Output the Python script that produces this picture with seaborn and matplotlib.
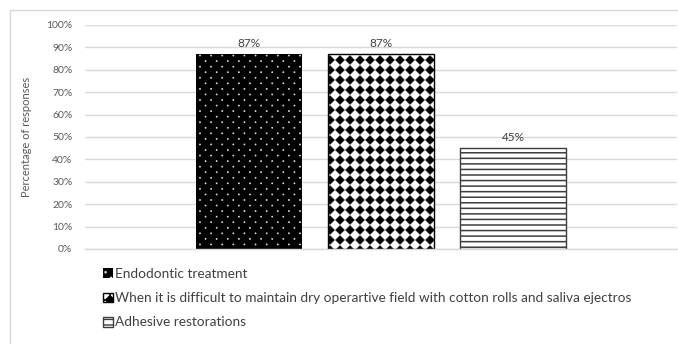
import warnings

import numpy as np
import pandas as pd
import matplotlib
matplotlib.use("Agg")
import matplotlib.pyplot as plt
import matplotlib.hatch as mhatch
from matplotlib.path import Path
from matplotlib.patches import Rectangle
from matplotlib.ticker import FuncFormatter
import seaborn as sns

warnings.filterwarnings("ignore")

# ---- data -------------------------------------------------------------
situations = [
    "Endodontic treatment",
    "When it is difficult to maintain dry operartive field with cotton rolls and saliva ejectros",
    "Adhesive restorations",
]
percentages = [87, 87, 45]
group = [""] * len(situations)
ytick_values = list(range(0, 101, 10))
y_label = "Percentage of responses"


# ---- custom fill textures (dots / diamonds) ---------------------------
class _LatticeHatch(mhatch.HatchPatternBase):
    symbol = ""
    cols = 10
    rows = 10
    stagger = False
    size = 0.5
    unit_vertices = np.zeros((0, 2))
    unit_codes = []

    def __init__(self, hatch, density):
        active = bool(self.symbol) and hatch.count(self.symbol) > 0
        k = len(self.unit_vertices)
        self.num_vertices = (self.rows + 1) * (self.cols + 2) * k if active else 0

    def set_vertices_and_codes(self, vertices, codes):
        k = len(self.unit_vertices)
        scale = self.size / self.cols
        i = 0
        for r in range(self.rows + 1):
            shift = 0.5 / self.cols if (self.stagger and r % 2) else 0.0
            for c in range(-1, self.cols + 1):
                centre = (c / self.cols + shift, r / self.rows)
                vertices[i:i + k] = self.unit_vertices * scale + centre
                codes[i:i + k] = self.unit_codes
                i += k


class DiamondLattice(_LatticeHatch):
    symbol = "d"
    cols = 10
    rows = 10
    size = 0.44
    unit_vertices = np.array([[0, 1], [1, 0], [0, -1], [-1, 0], [0, 1]], float)
    unit_codes = [Path.MOVETO, Path.LINETO, Path.LINETO, Path.LINETO, Path.CLOSEPOLY]


class DotLattice(_LatticeHatch):
    symbol = "p"
    cols = 9
    rows = 18
    stagger = True
    size = 0.05
    unit_vertices = Path.unit_circle().vertices
    unit_codes = Path.unit_circle().codes


mhatch._hatch_types.extend([DiamondLattice, DotLattice])

# ---- styling ----------------------------------------------------------
sns.set_theme(style="white")
plt.rcParams["font.family"] = ["Lato", "DejaVu Sans"]

TEXT = "#595959"
GRID = "#d9d9d9"

df = pd.DataFrame({"group": group, "situation": situations, "pct": percentages})

fig = plt.figure(figsize=(6.78, 3.44), dpi=100)
ax = fig.add_axes([85 / 678, 1 - 249 / 344, 592 / 678, 224 / 344])

sns.barplot(
    data=df, x="group", y="pct", hue="situation", hue_order=situations,
    palette=["black", "white", "white"], saturation=1,
    width=0.671, gap=0.2, legend=False, ax=ax,
)

bar_styles = [
    dict(face="black", edge="#dddddd", lw=0.0, hatch="p", hlw=0.5),
    dict(face="white", edge="black", lw=1.0, hatch="d", hlw=0.4),
    dict(face="white", edge="#3d3d3d", lw=1.0, hatch="---", hlw=1.1),
]
for container, st in zip(ax.containers, bar_styles):
    for p in container.patches:
        p.set_facecolor(st["face"])
        p.set_edgecolor(st["edge"])
        p.set_linewidth(st["lw"])
        p.set_hatch(st["hatch"])
        if hasattr(p, "set_hatch_linewidth"):
            p.set_hatch_linewidth(st["hlw"])
    ax.bar_label(container, labels=[f"{v:.0f}%" for v in container.datavalues],
                 padding=4, fontsize=8.5, color="#404040")

ax.set_ylim(0, 100)
ax.set_yticks(ytick_values)
ax.yaxis.set_major_formatter(FuncFormatter(lambda v, _: f"{v:.0f}%"))
ax.tick_params(axis="y", length=0, pad=9, labelsize=7.5, labelcolor=TEXT)
ax.set_xticks([])
ax.set_xlabel("")
ax.set_ylabel(y_label, fontsize=8, color=TEXT, labelpad=10)
ax.yaxis.grid(True, color=GRID, linewidth=1)
ax.set_axisbelow(True)
for side in ["top", "right", "left"]:
    ax.spines[side].set_visible(False)
ax.spines["bottom"].set_color(GRID)
ax.spines["bottom"].set_linewidth(1)

fig.legend(
    handles=list(ax.containers), labels=situations,
    loc="upper left", bbox_to_anchor=(103 / 678, 1 - 268 / 344),
    bbox_transform=fig.transFigure, frameon=False, fontsize=9.8,
    labelcolor="#404040", handlelength=0.7, handleheight=0.7,
    handletextpad=0.2, labelspacing=0.9, borderpad=0, borderaxespad=0,
)

# chart-area border
fig.patches.append(Rectangle((10 / 678, -0.1), 1.2, 1.1 - 10 / 344, transform=fig.transFigure,
                             fill=False, edgecolor=GRID, linewidth=1, zorder=0))

fig.savefig("out.png", dpi=100)
